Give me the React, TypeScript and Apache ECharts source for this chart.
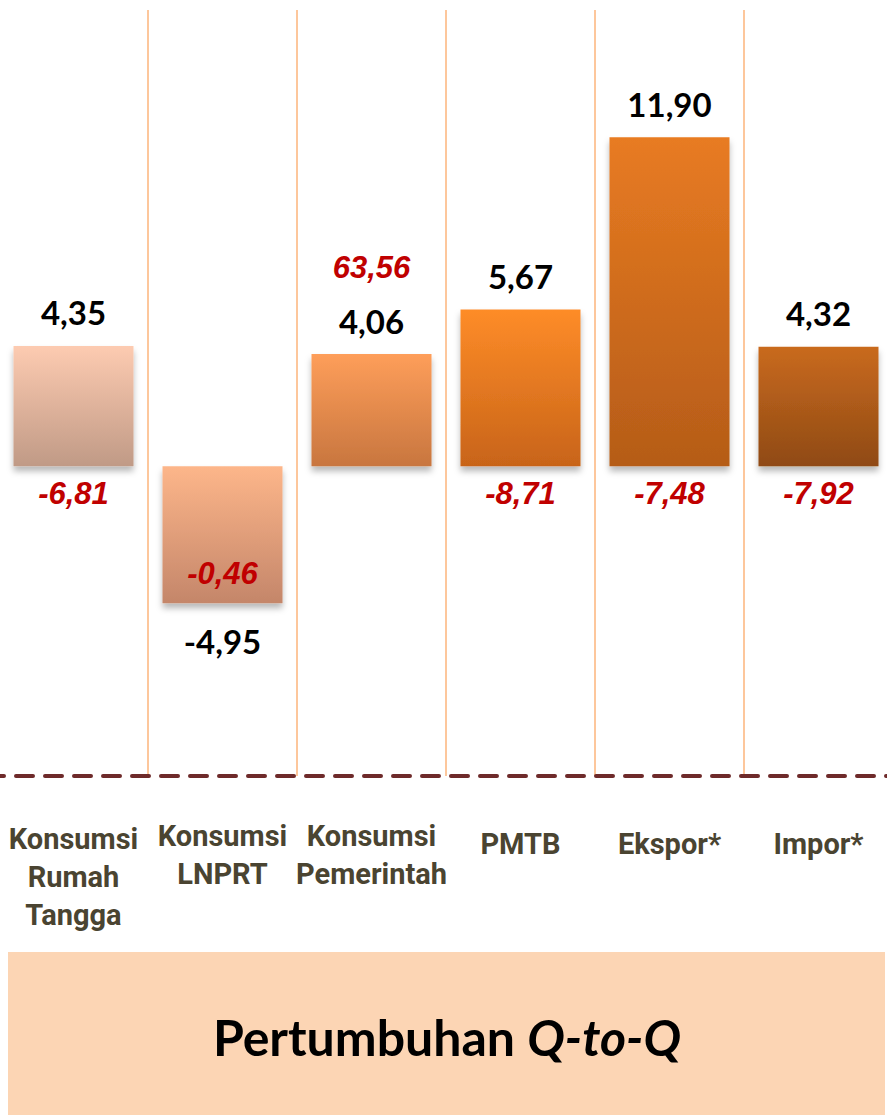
import React, { useEffect, useRef } from 'react';
import * as echarts from 'echarts';

// ---- data ----
const categories = [
  'Konsumsi\nRumah\nTangga',
  'Konsumsi\nLNPRT',
  'Konsumsi\nPemerintah',
  'PMTB',
  'Ekspor*',
  'Impor*',
];
const qtqGrowth = [4.35, -4.95, 4.06, 5.67, 11.9, 4.32];
const comparisonGrowth = [-6.81, -0.46, 63.56, -8.71, -7.48, -7.92];
const chartTitle = 'Pertumbuhan ';
const chartTitleItalic = 'Q-to-Q';

// ---- styles ----
const barGradients = [
  ['#fdcbb1', '#c09a86'],
  ['#fdb68a', '#c4866a'],
  ['#fe9e5a', '#c8763f'],
  ['#fe8c28', '#c86419'],
  ['#e87b22', '#b55c18'],
  ['#c96a1e', '#8f4a15'],
];
const comparisonPlacement = [
  { position: 'bottom', distance: 12 },
  { position: 'insideBottom', distance: 14 },
  { position: 'top', distance: 71 },
  { position: 'bottom', distance: 12 },
  { position: 'bottom', distance: 12 },
  { position: 'bottom', distance: 12 },
];
const categoryLabelPad = [3, 0, 0, 8, 8, 8];

const fmt = (v: number) => v.toFixed(2).replace('.', ',');

export default function App() {
  const ref = useRef<HTMLDivElement>(null);

  useEffect(() => {
    if (!ref.current) return;
    const chart = echarts.init(ref.current, null, { renderer: 'svg' });

    const mainData = qtqGrowth.map((v, i) => ({
      value: v,
      itemStyle: {
        color: new echarts.graphic.LinearGradient(0, 0, 0, 1, [
          { offset: 0, color: barGradients[i][0] },
          { offset: 1, color: barGradients[i][1] },
        ]),
      },
      label: v >= 0 ? { position: 'top', distance: 17 } : { position: 'bottom', distance: 21 },
    }));

    const overlayData = qtqGrowth.map((v, i) => ({
      value: v,
      label: comparisonPlacement[i],
    }));

    chart.setOption({
      animation: false,
      grid: {
        left: -1,
        top: 10,
        width: 894,
        bottom: 1115 - 776,
        containLabel: false,
        outerBoundsMode: 'none',
      },
      xAxis: {
        type: 'category',
        data: categories.map((c, i) => ({
          value: c,
          textStyle: { padding: [categoryLabelPad[i], 0, 0, 0] },
        })),
        axisLine: {
          onZero: false,
          lineStyle: { color: '#6e2a2a', width: 4, type: [17, 12], dashOffset: -17 },
        },
        axisTick: { show: false },
        splitLine: {
          show: true,
          interval: 0,
          lineStyle: { color: '#fdc79c', width: 2 },
        },
        axisLabel: {
          interval: 0,
          margin: 41,
          color: '#4a4431',
          fontFamily: 'Roboto, "Liberation Sans", sans-serif',
          fontWeight: 'bold',
          fontSize: 29,
          lineHeight: 38,
        },
      },
      yAxis: {
        type: 'value',
        min: -11.2,
        max: 16.5,
        show: false,
        splitLine: { show: false },
      },
      series: [
        {
          type: 'bar',
          barWidth: 120,
          data: mainData,
          itemStyle: {
            shadowBlur: 6,
            shadowOffsetY: 5,
            shadowColor: 'rgba(0,0,0,0.28)',
          },
          label: {
            show: true,
            formatter: (p: any) => fmt(p.value),
            color: '#000',
            fontFamily: 'Lato, "Open Sans", sans-serif',
            fontWeight: 'bold',
            fontSize: 33,
          },
          z: 2,
        },
        {
          type: 'bar',
          barWidth: 120,
          barGap: '-100%',
          data: overlayData,
          itemStyle: { color: 'rgba(0,0,0,0)' },
          label: {
            show: true,
            formatter: (p: any) => fmt(comparisonGrowth[p.dataIndex]),
            color: '#c00000',
            fontFamily: '"Liberation Sans", Arial, sans-serif',
            fontWeight: 'bold',
            fontStyle: 'italic',
            fontSize: 31,
          },
          z: 3,
        },
      ],
      graphic: [
        {
          type: 'rect',
          shape: { x: 8, y: 952, width: 877, height: 163 },
          style: { fill: '#fcd5b4' },
          z: 0,
        },
        {
          type: 'text',
          x: 447,
          y: 1037,
          style: {
            text: `{n|${chartTitle}}{i|${chartTitleItalic}}`,
            align: 'center',
            verticalAlign: 'middle',
            rich: {
              n: { fontFamily: 'Lato, sans-serif', fontWeight: 'bold', fontSize: 50, fill: '#000', color: '#000' },
              i: { fontFamily: 'Lato, sans-serif', fontWeight: 'bold', fontStyle: 'italic', fontSize: 50, fill: '#000', color: '#000' },
            },
          },
          z: 1,
        },
      ],
    });

    return () => chart.dispose();
  }, []);

  return (
    <div
      ref={ref}
      style={{ position: 'absolute', left: 0, top: 0, width: 887, height: 1115 }}
    />
  );
}
